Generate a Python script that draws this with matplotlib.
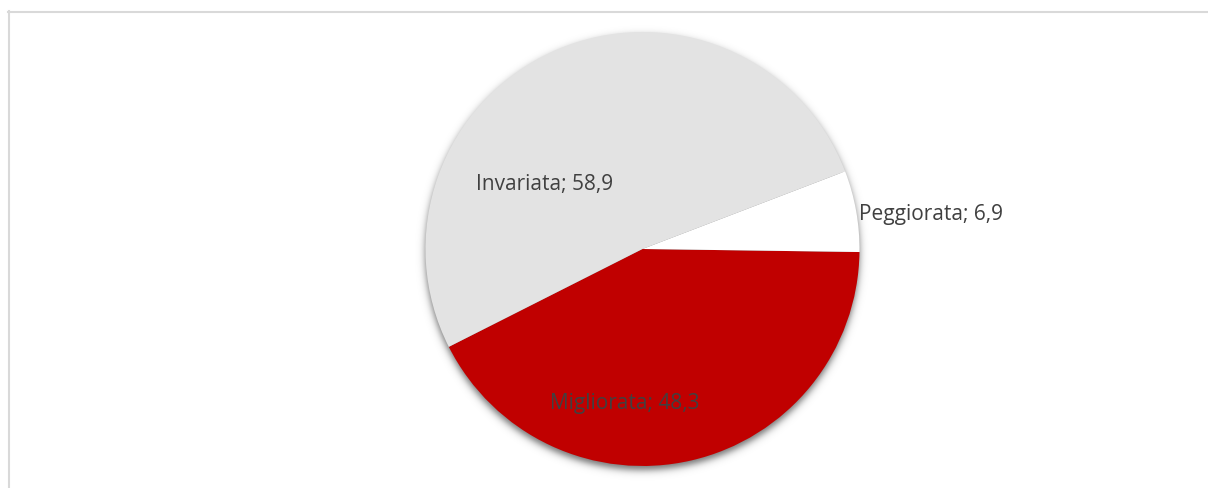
import numpy as np
import matplotlib
matplotlib.use("Agg")
import matplotlib.pyplot as plt
from matplotlib.lines import Line2D

# Data
categories = ["Migliorata", "Invariata", "Peggiorata"]
values = [48.3, 58.9, 6.9]
colors = ["#c00000", "#e3e3e3", "#ffffff"]

W, H = 1208, 489
fig = plt.figure(figsize=(W / 100, H / 100), dpi=100)
ax = fig.add_axes([0, 0, 1, 1])

cx, cy, R = 642.5, H - 250.0, 217.0

# Soft drop shadow under the pie
xs = np.arange(W) + 0.5
ys = np.arange(H) + 0.5
X, Y = np.meshgrid(xs, ys)
d = np.hypot(X - cx, Y - (cy - 4))
alpha = 0.55 / (1 + np.exp((d - R) / 2.2))
shadow = np.zeros((H, W, 4))
shadow[..., 3] = alpha
ax.imshow(shadow, extent=(0, W, 0, H), origin="lower", zorder=0,
          interpolation="bilinear")

wedges, _ = ax.pie(values, colors=colors, startangle=-0.8, counterclock=False,
                   center=(cx, cy), radius=R, frame=False,
                   wedgeprops=dict(linewidth=0, edgecolor="none", zorder=2))

ax.set_xlim(0, W)
ax.set_ylim(0, H)
ax.set_aspect("equal")
ax.axis("off")

def fmt(name, v):
    return f"{name}; {v:.1f}".replace(".", ",")

label_pos = {
    "Invariata": (545, H - 185, "center"),
    "Peggiorata": (859, H - 215, "left"),
    "Migliorata": (625, H - 404, "center"),
}
for name, v in zip(categories, values):
    x, y, ha = label_pos[name]
    ax.text(x, y, fmt(name, v), ha=ha, va="center", fontsize=15,
            family="Open Sans", color="#404040", zorder=5)

# Chart area border (top and left edges)
border = "#d9d9d9"
fig.add_artist(Line2D([8 / W, 1.0], [1 - 12.5 / H, 1 - 12.5 / H],
                      color=border, lw=1.5, transform=fig.transFigure))
fig.add_artist(Line2D([9 / W, 9 / W], [0, 1 - 12 / H],
                      color=border, lw=1.5, transform=fig.transFigure))

fig.savefig("out.png", dpi=100)
